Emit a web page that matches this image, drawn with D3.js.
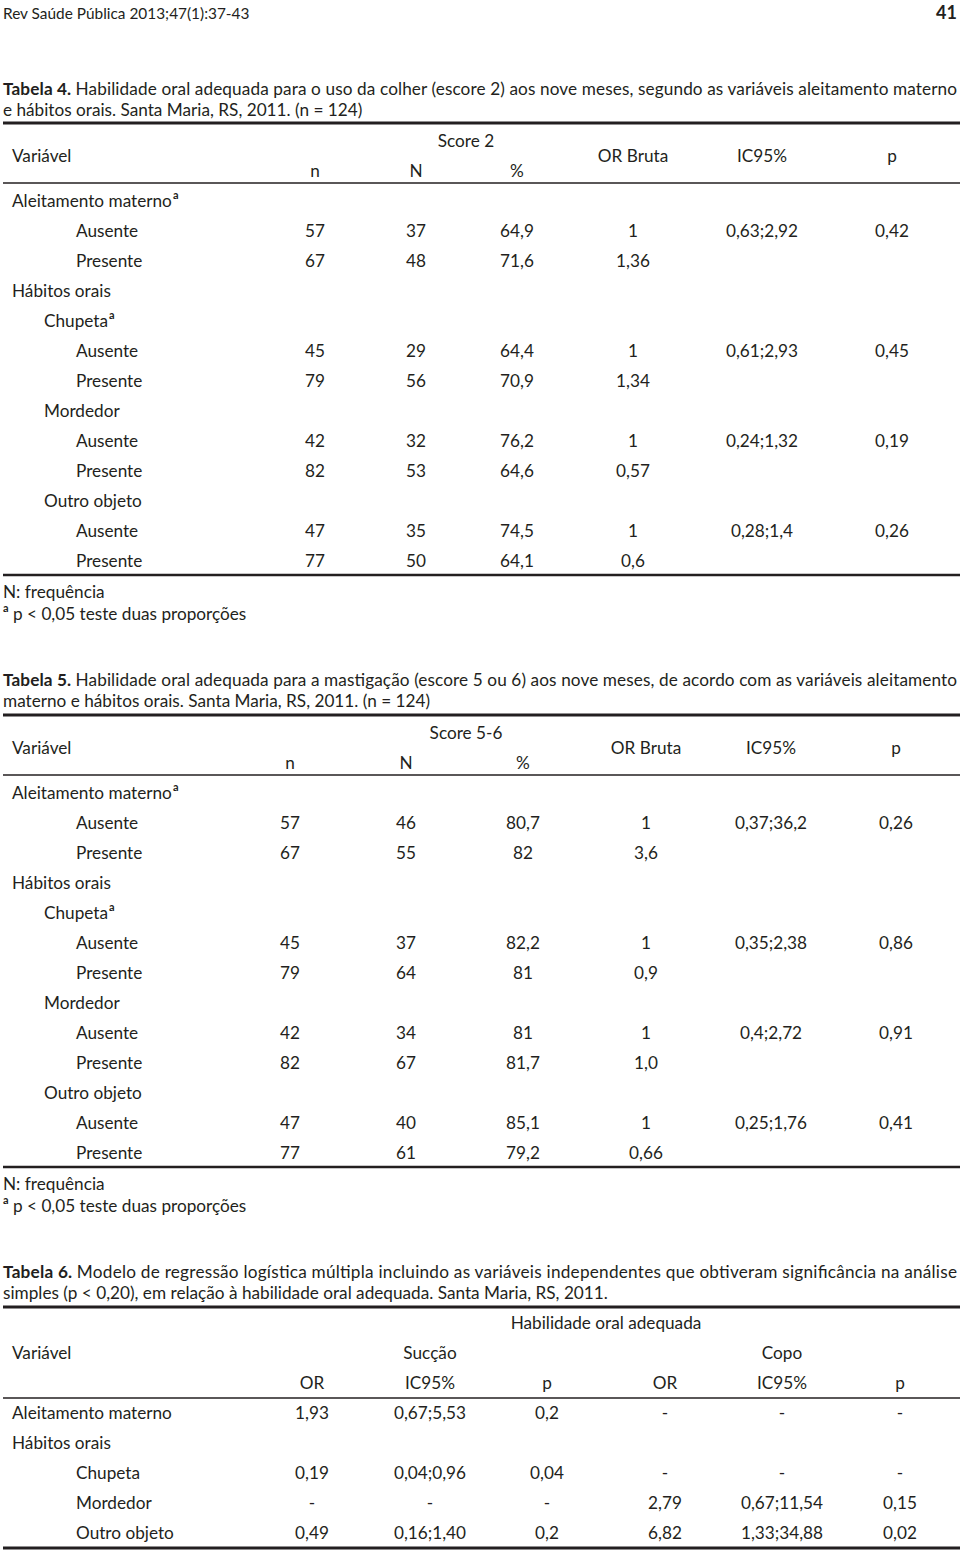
<!DOCTYPE html>
<html><head><meta charset="utf-8">
<script src="https://cdn.jsdelivr.net/npm/d3@7"></script>
<style>
html,body{margin:0;padding:0;background:#fff;}
svg text{font-family:Lato,"Open Sans",sans-serif;fill:#231f20;}
</style></head>
<body>
<svg id="c" width="960" height="1551"></svg>
<script>
// ---------- DATA ----------
const pageHeader = "Rev Saúde Pública 2013;47(1):37-43";
const pageNumber = "41";

// Table 4
const t4Caption = ["Habilidade oral adequada para o uso da colher (escore 2) aos nove meses, segundo as variáveis aleitamento materno",
                   "e hábitos orais. Santa Maria, RS, 2011. (n = 124)"];
const t4Labels = ["Aleitamento materno","Ausente","Presente","Hábitos orais","Chupeta","Ausente","Presente","Mordedor","Ausente","Presente","Outro objeto","Ausente","Presente"];
const t4Kinds  = ["group","item","item","group","sub","item","item","sub","item","item","sub","item","item"];
const t4Sup    = [true,false,false,false,true,false,false,false,false,false,false,false,false];
const t4n   = ["","57","67","","","45","79","","42","82","","47","77"];
const t4N   = ["","37","48","","","29","56","","32","53","","35","50"];
const t4Pct = ["","64,9","71,6","","","64,4","70,9","","76,2","64,6","","74,5","64,1"];
const t4OR  = ["","1","1,36","","","1","1,34","","1","0,57","","1","0,6"];
const t4IC  = ["","0,63;2,92","","","","0,61;2,93","","","0,24;1,32","","","0,28;1,4",""];
const t4P   = ["","0,42","","","","0,45","","","0,19","","","0,26",""];

// Table 5
const t5Caption = ["Habilidade oral adequada para a mastigação (escore 5 ou 6) aos nove meses, de acordo com as variáveis aleitamento",
                   "materno e hábitos orais. Santa Maria, RS, 2011. (n = 124)"];
const t5Labels = t4Labels;
const t5Kinds  = t4Kinds;
const t5Sup    = t4Sup;
const t5n   = ["","57","67","","","45","79","","42","82","","47","77"];
const t5N   = ["","46","55","","","37","64","","34","67","","40","61"];
const t5Pct = ["","80,7","82","","","82,2","81","","81","81,7","","85,1","79,2"];
const t5OR  = ["","1","3,6","","","1","0,9","","1","1,0","","1","0,66"];
const t5IC  = ["","0,37;36,2","","","","0,35;2,38","","","0,4;2,72","","","0,25;1,76",""];
const t5P   = ["","0,26","","","","0,86","","","0,91","","","0,41",""];

const footNotes = ["N: frequência", "p < 0,05 teste duas proporções"];

// Table 6
const t6Caption = ["Modelo de regressão logística múltipla incluindo as variáveis independentes que obtiveram significância na análise",
                   "simples (p < 0,20), em relação à habilidade oral adequada. Santa Maria, RS, 2011."];
const t6Labels = ["Aleitamento materno","Hábitos orais","Chupeta","Mordedor","Outro objeto"];
const t6Kinds  = ["group","group","item","item","item"];
const t6SucOR = ["1,93","","0,19","-","0,49"];
const t6SucIC = ["0,67;5,53","","0,04;0,96","-","0,16;1,40"];
const t6SucP  = ["0,2","","0,04","-","0,2"];
const t6CopOR = ["-","","-","2,79","6,82"];
const t6CopIC = ["-","","-","0,67;11,54","1,33;34,88"];
const t6CopP  = ["-","","-","0,15","0,02"];

// ---------- DRAW ----------
const svg = d3.select("#c");
const FS = 17.2;
const indent = d3.scaleOrdinal().domain(["group","sub","item"]).range([12,44,76]);

svg.append("text").attr("x",3).attr("y",13).attr("dominant-baseline","central")
  .style("font-size","15.4px").text(pageHeader);
svg.append("text").attr("x",957).attr("y",12).attr("dominant-baseline","central")
  .attr("text-anchor","end").style("font-size","18px").style("font-weight","bold").text(pageNumber);

function caption(num, lines, y0){
  lines.forEach((l,i)=>{
    const t = svg.append("text").attr("x",3).attr("y",y0+i*21).attr("dominant-baseline","central")
      .style("font-size",FS+"px");
    t.append("tspan").style("font-weight", i===0 ? "bold" : "normal").text(i===0 ? "Tabela "+num+". " : "");
    t.append("tspan").text(l);
    if(i===0){ t.attr("textLength",954).attr("lengthAdjust","spacing"); }
  });
}
function hline(y, w){
  svg.append("line").attr("x1",3).attr("x2",960).attr("y1",y).attr("y2",y)
    .attr("stroke","#231f20").attr("stroke-width",w);
}
function txt(x,y,s,anchor){
  return svg.append("text").attr("x",x).attr("y",y).attr("dominant-baseline","central")
    .attr("text-anchor",anchor||"middle").style("font-size",FS+"px").text(s);
}
function labelCell(x,y,s,sup){
  const t = svg.append("text").attr("x",x).attr("y",y).attr("dominant-baseline","central")
    .style("font-size",FS+"px").text(s);
  if(sup) t.append("tspan").attr("dx",1).attr("dy",-6).style("font-size","11px").style("font-weight","bold").text("a");
  return t;
}

function scoreTable(o){
  caption(o.num, o.caption, o.capY);
  hline(o.topY, 3);
  txt(o.scoreX, o.topY+17, o.scoreTitle);
  txt(12, o.topY+32, "Variável", "start");
  const colKeys = ["n","N","pct","or","ic","p"];
  const x = d3.scaleOrdinal().domain(colKeys).range(o.colX);
  txt(x("n"), o.topY+47, "n"); txt(x("N"), o.topY+47, "N"); txt(x("pct"), o.topY+47, "%");
  txt(x("or"), o.topY+32, "OR Bruta"); txt(x("ic"), o.topY+32, "IC95%"); txt(x("p"), o.topY+32, "p");
  hline(o.topY+60, 1.5);
  const y = d3.scalePoint().domain(d3.range(o.labels.length)).range([o.topY+77, o.topY+77+30*(o.labels.length-1)]);
  o.labels.forEach((l,i)=>{
    labelCell(indent(o.kinds[i]), y(i), l, o.sup[i]);
    const vals = {n:o.n[i],N:o.N[i],pct:o.pct[i],or:o.or[i],ic:o.ic[i],p:o.p[i]};
    colKeys.forEach(k=>{ if(vals[k]!=="") txt(x(k), y(i), vals[k]); });
  });
  const by = y(o.labels.length-1)+15;
  hline(by, 2.5);
  txt(3, by+16, footNotes[0], "start");
  const f = svg.append("text").attr("x",3).attr("y",by+38).attr("dominant-baseline","central").style("font-size",FS+"px");
  f.append("tspan").attr("dy",-6).style("font-size","11px").style("font-weight","bold").text("a");
  f.append("tspan").attr("dy",6).text(" "+footNotes[1]);
}

scoreTable({num:4, caption:t4Caption, capY:88, topY:123, scoreTitle:"Score 2", scoreX:466,
  colX:[315,416,517,633,762,892], labels:t4Labels, kinds:t4Kinds, sup:t4Sup,
  n:t4n, N:t4N, pct:t4Pct, or:t4OR, ic:t4IC, p:t4P});

scoreTable({num:5, caption:t5Caption, capY:679, topY:715, scoreTitle:"Score 5-6", scoreX:466,
  colX:[290,406,523,646,771,896], labels:t5Labels, kinds:t5Kinds, sup:t5Sup,
  n:t5n, N:t5N, pct:t5Pct, or:t5OR, ic:t5IC, p:t5P});

// Table 6
(function(){
  caption(6, t6Caption, 1271);
  hline(1307, 3);
  txt(606, 1322, "Habilidade oral adequada");
  txt(12, 1352, "Variável", "start");
  const keys = ["sor","sic","sp","cor","cic","cp"];
  const x = d3.scaleOrdinal().domain(keys).range([312,430,547,665,782,900]);
  txt(x("sic"), 1352, "Sucção"); txt(x("cic"), 1352, "Copo");
  ["OR","IC95%","p","OR","IC95%","p"].forEach((h,i)=>txt(x(keys[i]),1382,h));
  hline(1398, 1.5);
  const y = d3.scalePoint().domain(d3.range(t6Labels.length)).range([1412, 1532]);
  const cols = [t6SucOR,t6SucIC,t6SucP,t6CopOR,t6CopIC,t6CopP];
  t6Labels.forEach((l,i)=>{
    labelCell(indent(t6Kinds[i]), y(i), l, false);
    cols.forEach((c,j)=>{ if(c[i]!=="") txt(x(keys[j]), y(i), c[i]); });
  });
  hline(1548, 3);
})();
</script>
</body></html>
